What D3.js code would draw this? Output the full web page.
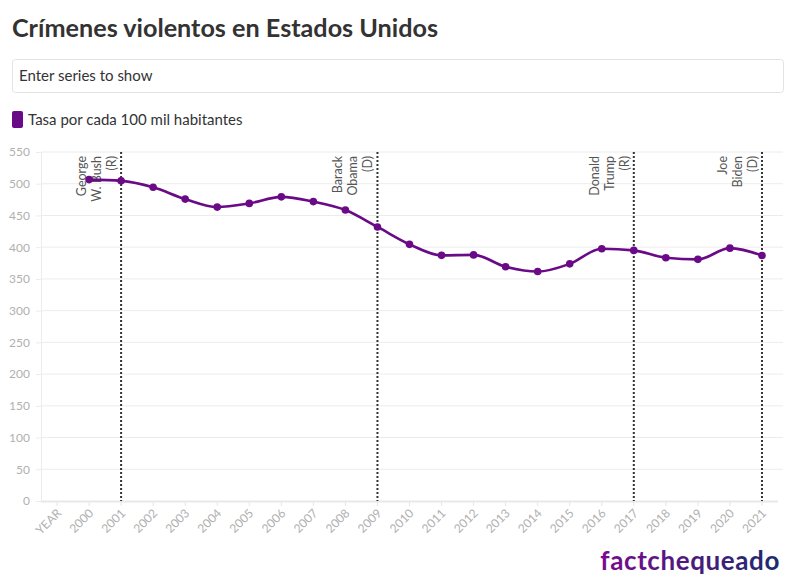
<!DOCTYPE html>
<html><head><meta charset="utf-8">
<script src="https://cdn.jsdelivr.net/npm/d3@7/dist/d3.min.js"></script>
<style>
body{margin:0;background:#fff;font-family:"Source Sans Pro",Lato,"Noto Sans",sans-serif;}
svg text{font-family:"Source Sans Pro",Lato,"Noto Sans",sans-serif;}
</style></head>
<body><svg id="c" width="796" height="575"></svg>
<script>
const categories = ["YEAR","2000","2001","2002","2003","2004","2005","2006","2007","2008","2009","2010","2011","2012","2013","2014","2015","2016","2017","2018","2019","2020","2021"];
const years = ["2000","2001","2002","2003","2004","2005","2006","2007","2008","2009","2010","2011","2012","2013","2014","2015","2016","2017","2018","2019","2020","2021"];
const rates = [506.5,504.5,494.4,475.8,463.2,469.0,479.3,471.8,458.6,431.9,404.5,387.1,387.8,369.1,361.6,373.7,397.5,394.9,383.4,380.8,398.5,387.0];
const yTicks = [0,50,100,150,200,250,300,350,400,450,500,550];
const presYears = ["2001","2009","2017","2021"];
const presLabels = [["George","W. Bush","(R)"],["Barack","Obama","(D)"],["Donald","Trump","(R)"],["Joe","Biden","(D)"]];
const seriesName = "Tasa por cada 100 mil habitantes";
const title = "Crímenes violentos en Estados Unidos";

const svg = d3.select("#c");
const purple = "#6a0a87";
const m = {l:41, r:778, t:152, b:501};

svg.append("text").attr("x",12).attr("y",37).text(title)
  .attr("font-size",25.2).attr("font-weight",700).attr("fill","#333");

svg.append("rect").attr("x",12.5).attr("y",59.5).attr("width",771).attr("height",33).attr("rx",3)
  .attr("fill","#fff").attr("stroke","#e3e3e3");
svg.append("text").attr("x",19).attr("y",81).text("Enter series to show")
  .attr("font-size",15).attr("fill","#333");

svg.append("rect").attr("x",12).attr("y",111).attr("width",11).attr("height",17).attr("rx",2).attr("fill",purple);
svg.append("text").attr("x",28).attr("y",125).text(seriesName).attr("font-size",15).attr("fill","#333");

const x = d3.scaleBand().domain(categories).range([m.l,m.r]);
const y = d3.scaleLinear().domain([0,550]).range([m.b,m.t]);
const cx = d => x(d)+x.bandwidth()/2;

// gridlines
svg.append("g").selectAll("line").data(yTicks.filter(d=>d>0)).join("line")
  .attr("x1",m.l).attr("x2",783).attr("y1",d=>y(d)).attr("y2",d=>y(d))
  .attr("stroke","#ececec").attr("stroke-width",1);
svg.append("line").attr("x1",m.l+0.5).attr("x2",m.l+0.5).attr("y1",m.t).attr("y2",m.b).attr("stroke","#ececec");

// y axis
const ya = svg.append("g").attr("transform",`translate(${m.l},0)`)
  .call(d3.axisLeft(y).tickValues(yTicks).tickSize(5).tickPadding(6));
ya.select(".domain").remove();
ya.selectAll("line").attr("stroke","#ececec");
ya.selectAll("text").attr("font-size",12).attr("fill","#b0b0b0").attr("font-family","Lato, sans-serif");

// x axis
const xa = svg.append("g").attr("transform",`translate(0,${m.b})`)
  .call(d3.axisBottom(x).tickSize(5));
xa.select(".domain").attr("stroke","#e8e8e8").attr("stroke-width",2).attr("d",`M${m.l},0.5H${m.r}`);
xa.selectAll("line").attr("stroke","#e6e6e6");
xa.selectAll("text").attr("font-size",12).attr("fill","#b0b0b0").attr("font-family","Lato, sans-serif")
  .attr("text-anchor","end").attr("dy",null).attr("y",0)
  .attr("transform","translate(5,13) rotate(-45)");

// president lines
const pg = svg.append("g");
presYears.forEach((yr,i)=>{
  const px = cx(yr);
  pg.append("line").attr("x1",px).attr("x2",px).attr("y1",m.t).attr("y2",m.b)
    .attr("stroke","#333").attr("stroke-width",2).attr("stroke-dasharray","2,2");
  const lines = presLabels[i];
  lines.forEach((t,j)=>{
    const lx = px - 5 - (lines.length-1-j)*15;
    pg.append("text").attr("transform",`translate(${lx},${m.t+4}) rotate(-90)`)
      .attr("text-anchor","end").attr("font-size",12.5).attr("fill","#555").text(t);
  });
});

// line
const data = years.map((d,i)=>({k:d,v:rates[i]}));
svg.append("path").datum(data)
  .attr("d",d3.line().x(d=>cx(d.k)).y(d=>y(d.v)).curve(d3.curveMonotoneX))
  .attr("fill","none").attr("stroke",purple).attr("stroke-width",2.6);
svg.append("g").selectAll("circle").data(data).join("circle")
  .attr("cx",d=>cx(d.k)).attr("cy",d=>y(d.v)).attr("r",3.8).attr("fill",purple);

// logo
const defs = svg.append("defs");
const gr = defs.append("linearGradient").attr("id","lg").attr("x1","0").attr("x2","1");
gr.append("stop").attr("offset","0").attr("stop-color","#7a0a8f");
gr.append("stop").attr("offset","1").attr("stop-color","#1e2a6e");
svg.append("text").attr("x",780).attr("y",570).attr("text-anchor","end")
  .attr("font-size",26).attr("font-weight",700).attr("fill","url(#lg)")
  .attr("font-family","Lato, sans-serif").attr("letter-spacing",0.6).text("factchequeado");
</script></body></html>
